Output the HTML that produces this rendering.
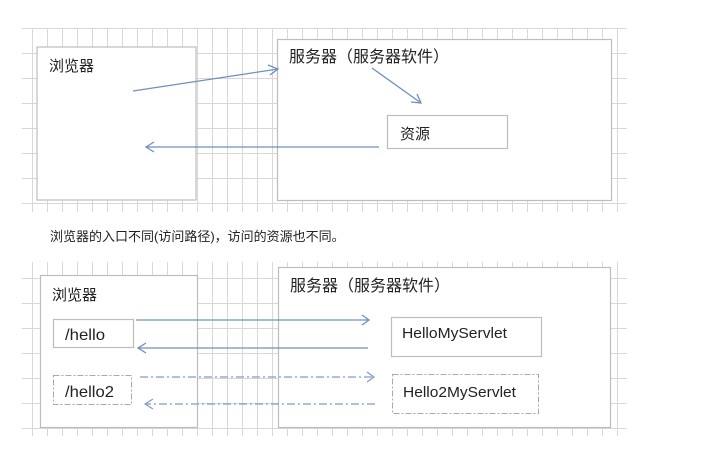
<!DOCTYPE html>
<html><head><meta charset="utf-8"><style>
html,body{margin:0;padding:0;background:#fff;}
svg text{font-family:"Liberation Sans","Noto Sans CJK SC",sans-serif;fill:#222;}
</style></head><body>
<svg width="721" height="446" viewBox="0 0 721 446" xmlns="http://www.w3.org/2000/svg">
<defs>
<pattern id="g" x="2" y="3" width="15" height="25" patternUnits="userSpaceOnUse">
<path d="M0.5 0V25M0 0.5H15" stroke="#d8d8d8" stroke-width="1" fill="none"/>
</pattern>
</defs>
<rect x="22" y="28" width="605" height="184" fill="url(#g)"/>
<rect x="22" y="262" width="605" height="174" fill="url(#g)"/>
<g fill="#fff" stroke="#bdbdbd" stroke-width="1.2">
<rect x="37" y="47" width="159" height="153"/>
<rect x="277.5" y="39.5" width="334" height="161"/>
<rect x="387.5" y="115.5" width="120" height="33"/>
<rect x="40.5" y="275.5" width="157" height="152"/>
<rect x="278.5" y="267.5" width="332" height="160"/>
<rect x="53.5" y="319.5" width="80" height="28"/>
<rect x="391.5" y="317.5" width="150" height="39"/>
</g>
<g fill="#fff" stroke="#aaa" stroke-width="1" stroke-dasharray="6,2,2,2">
<rect x="53.5" y="375.5" width="78" height="29"/>
<rect x="392.5" y="374.5" width="146" height="39"/>
</g>
<g stroke="#6f8fc0" stroke-width="1.3" fill="none">
<path d="M133 91L278 69M268 65L278 69L270 75"/>
<path d="M372 68L421 103M411 102L421 103L417 94"/>
<path d="M379 147H146M154 142L146 147L154 152"/>
<path d="M136 320H368M362 315L369 320L362 325"/>
<path d="M368 348H138M146 343L138 348L146 353"/>
</g>
<g stroke="#7f9cc8" stroke-width="1.2" fill="none">
<path d="M140 377H373" stroke-dasharray="8,3,2,3"/>
<path d="M367 372L374 377L367 382"/>
<path d="M375 404H145" stroke-dasharray="8,3,2,3"/>
<path d="M153 399L145 404L153 409"/>
</g>
<g font-size="14">
<text x="49" y="71" font-size="15">浏览器</text>
<text x="289" y="62" font-size="16">服务器（服务器软件）</text>
<text x="400" y="139" font-size="15">资源</text>
<text x="52" y="300" font-size="15">浏览器</text>
<text x="290" y="291" font-size="16">服务器（服务器软件）</text>
<text x="65" y="340" font-size="16" textLength="40" lengthAdjust="spacingAndGlyphs">/hello</text>
<text x="65" y="397" font-size="16" textLength="49" lengthAdjust="spacingAndGlyphs">/hello2</text>
<text x="402" y="338" font-size="15" textLength="105" lengthAdjust="spacingAndGlyphs">HelloMyServlet</text>
<text x="403" y="397" font-size="15" textLength="113" lengthAdjust="spacingAndGlyphs">Hello2MyServlet</text>
</g>
<text x="50" y="241" font-size="13">浏览器的入口不同(访问路径)，访问的资源也不同。</text>
</svg>
</body></html>
